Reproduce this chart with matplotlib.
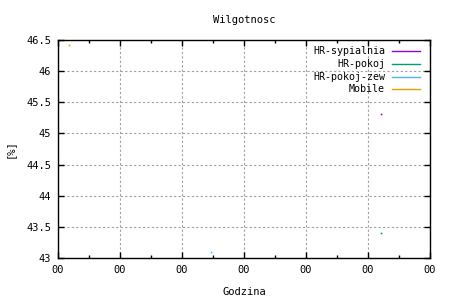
import matplotlib
matplotlib.use("Agg")
import matplotlib.pyplot as plt
from matplotlib.lines import Line2D

# series: one reading each (day offset, humidity %)
labels = ["HR-sypialnia", "HR-pokoj", "HR-pokoj-zew", "Mobile"]
colors = ["#9400d3", "#009e73", "#56b4e9", "#e69f00"]
x_vals = [[5.21], [5.21], [2.47], [0.18]]
y_vals = [[45.31], [43.40], [43.10], [46.42]]

x_ticks = [0, 1, 2, 3, 4, 5, 6]
x_tick_labels = ["00"] * 7
y_ticks = [43, 43.5, 44, 44.5, 45, 45.5, 46, 46.5]
y_tick_labels = ["43", "43.5", "44", "44.5", "45", "45.5", "46", "46.5"]

plt.rcParams["font.family"] = "DejaVu Sans Mono"
plt.rcParams["font.size"] = 7

fig = plt.figure(figsize=(4.5, 3), dpi=100)
ax = fig.add_axes([58 / 450, 42 / 300, 372 / 450, 218 / 300])

for xs, ys, c in zip(x_vals, y_vals, colors):
    ax.plot(xs, ys, linestyle="none", marker="s", markersize=1.2,
            markeredgewidth=0, color=c)

ax.set_xlim(0, 6)
ax.set_ylim(43, 46.5)
ax.set_xticks(x_ticks)
ax.set_xticklabels(x_tick_labels)
ax.set_xticks([0.5 + i for i in range(6)], minor=True)
ax.set_yticks(y_ticks)
ax.set_yticklabels(y_tick_labels)

ax.tick_params(which="both", direction="in", top=True, right=True,
               width=1, color="black", labelsize=7.5)
ax.tick_params(which="major", length=4, pad=5)
ax.tick_params(which="minor", length=2)
ax.grid(True, which="major", linestyle=(0, (2, 2)), color="#a0a0a0",
        linewidth=0.8)
for sp in ax.spines.values():
    sp.set_linewidth(1)

ax.set_title("Wilgotnosc", fontsize=7.5, pad=12)
ax.set_xlabel("Godzina", fontsize=7.5, labelpad=9)
ax.set_ylabel("[%]", fontsize=7.5, labelpad=8)

# legend drawn gnuplot style: right-aligned text, sample line to its right
for i, (lab, c) in enumerate(zip(labels, colors)):
    ypx = 51 + i * 12.8
    yf = 1 - ypx / 300
    fig.text(385 / 450, yf, lab, ha="right", va="center", fontsize=7.2)
    fig.add_artist(Line2D([392 / 450, 420 / 450], [yf, yf], color=c,
                          linewidth=1, transform=fig.transFigure))

fig.savefig("out.png", dpi=100)
